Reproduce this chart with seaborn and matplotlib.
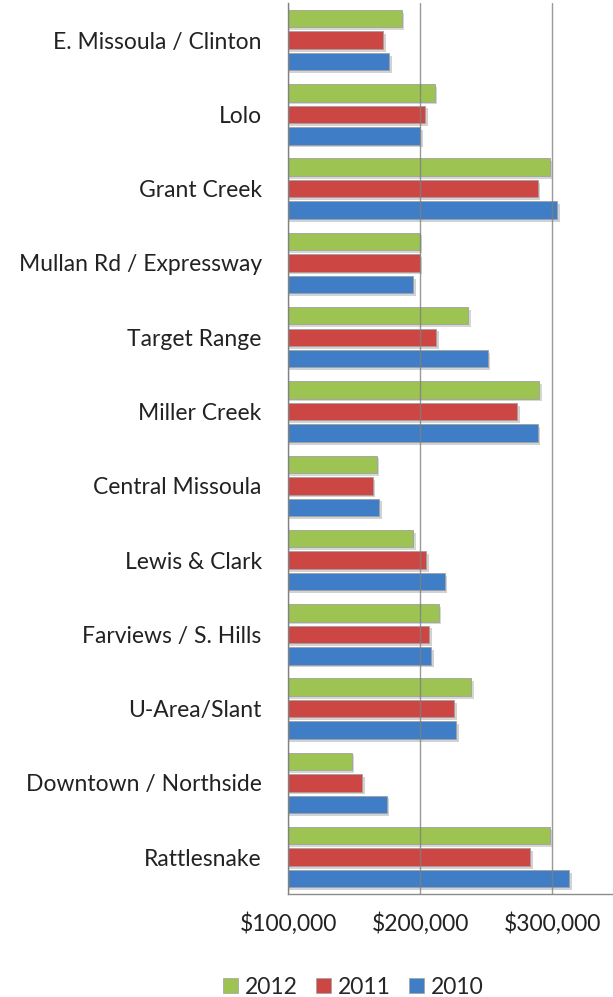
import matplotlib
matplotlib.use('Agg')
import matplotlib.pyplot as plt
import matplotlib.patheffects as pe
from matplotlib.patches import Patch
from matplotlib.ticker import FuncFormatter
import seaborn as sns
import pandas as pd
import numpy as np

areas = ['E. Missoula / Clinton', 'Lolo', 'Grant Creek', 'Mullan Rd / Expressway',
         'Target Range', 'Miller Creek', 'Central Missoula', 'Lewis & Clark',
         'Farviews / S. Hills', 'U-Area/Slant', 'Downtown / Northside', 'Rattlesnake']
years = ['2012', '2011', '2010']
v2012 = [186000, 211000, 298000, 199500, 236000, 290000, 167000, 194500, 214000, 238500, 148000, 298000]
v2011 = [172000, 204000, 289000, 199500, 212000, 273500, 164000, 204500, 206500, 225500, 156000, 283000]
v2010 = [176500, 200000, 303500, 194500, 251000, 289000, 169000, 218500, 208000, 227000, 174500, 313000]
colors = ['#9dc453', '#cc4744', '#3f7ec6']

df = pd.DataFrame({
    'area': areas * 3,
    'year': [y for y in years for _ in areas],
    'value': v2012 + v2011 + v2010,
})

sns.set_style('white')
plt.rcParams['font.family'] = ['Lato', 'DejaVu Sans']

fig = plt.figure(figsize=(6.13, 9.97), dpi=100)
ax = fig.add_axes([0.47, 0.103, 0.53, 0.894])

sns.barplot(data=df, x='value', y='area', hue='year', order=areas, hue_order=years,
            palette=colors, saturation=1, orient='h', width=0.87, gap=0.19, ax=ax,
            edgecolor='#a0a0a0', linewidth=0.6, legend=False)

# soft drop shadow like the original
for p in ax.patches:
    p.set_path_effects([pe.SimplePatchShadow(offset=(2, -2), alpha=0.2), pe.Normal()])

ax.set_xlim(100000, 346000)
ax.set_xticks([100000, 200000, 300000])
ax.xaxis.set_major_formatter(FuncFormatter(lambda v, _: f'${v:,.0f}'))
ax.set_xlabel('')
ax.set_ylabel('')

ax.xaxis.grid(True, color='#808080', linewidth=1.0, alpha=0.8)
ax.set_axisbelow(False)

for s in ['top', 'right']:
    ax.spines[s].set_visible(False)
for s in ['left', 'bottom']:
    ax.spines[s].set_color('#8c8c8c')
    ax.spines[s].set_linewidth(1.0)

ax.set_yticks(np.arange(-0.5, len(areas), 1), minor=True)
ax.tick_params(axis='y', which='major', length=0, pad=19, labelsize=16.5, labelcolor='#222222')
ax.tick_params(axis='y', which='minor', length=6, color='#8c8c8c', width=1)
ax.tick_params(axis='x', which='major', length=0, pad=13, labelsize=16.5, labelcolor='#222222')

handles = [Patch(facecolor=c, edgecolor='#a0a0a0', linewidth=0.5) for c in colors]
fig.legend(handles, years, loc='center', bbox_to_anchor=(0.576, 0.010), ncol=3,
           frameon=False, fontsize=16.5, handlelength=0.65, handleheight=0.65,
           columnspacing=0.8, handletextpad=0.3)

fig.savefig('out.png', dpi=100)
